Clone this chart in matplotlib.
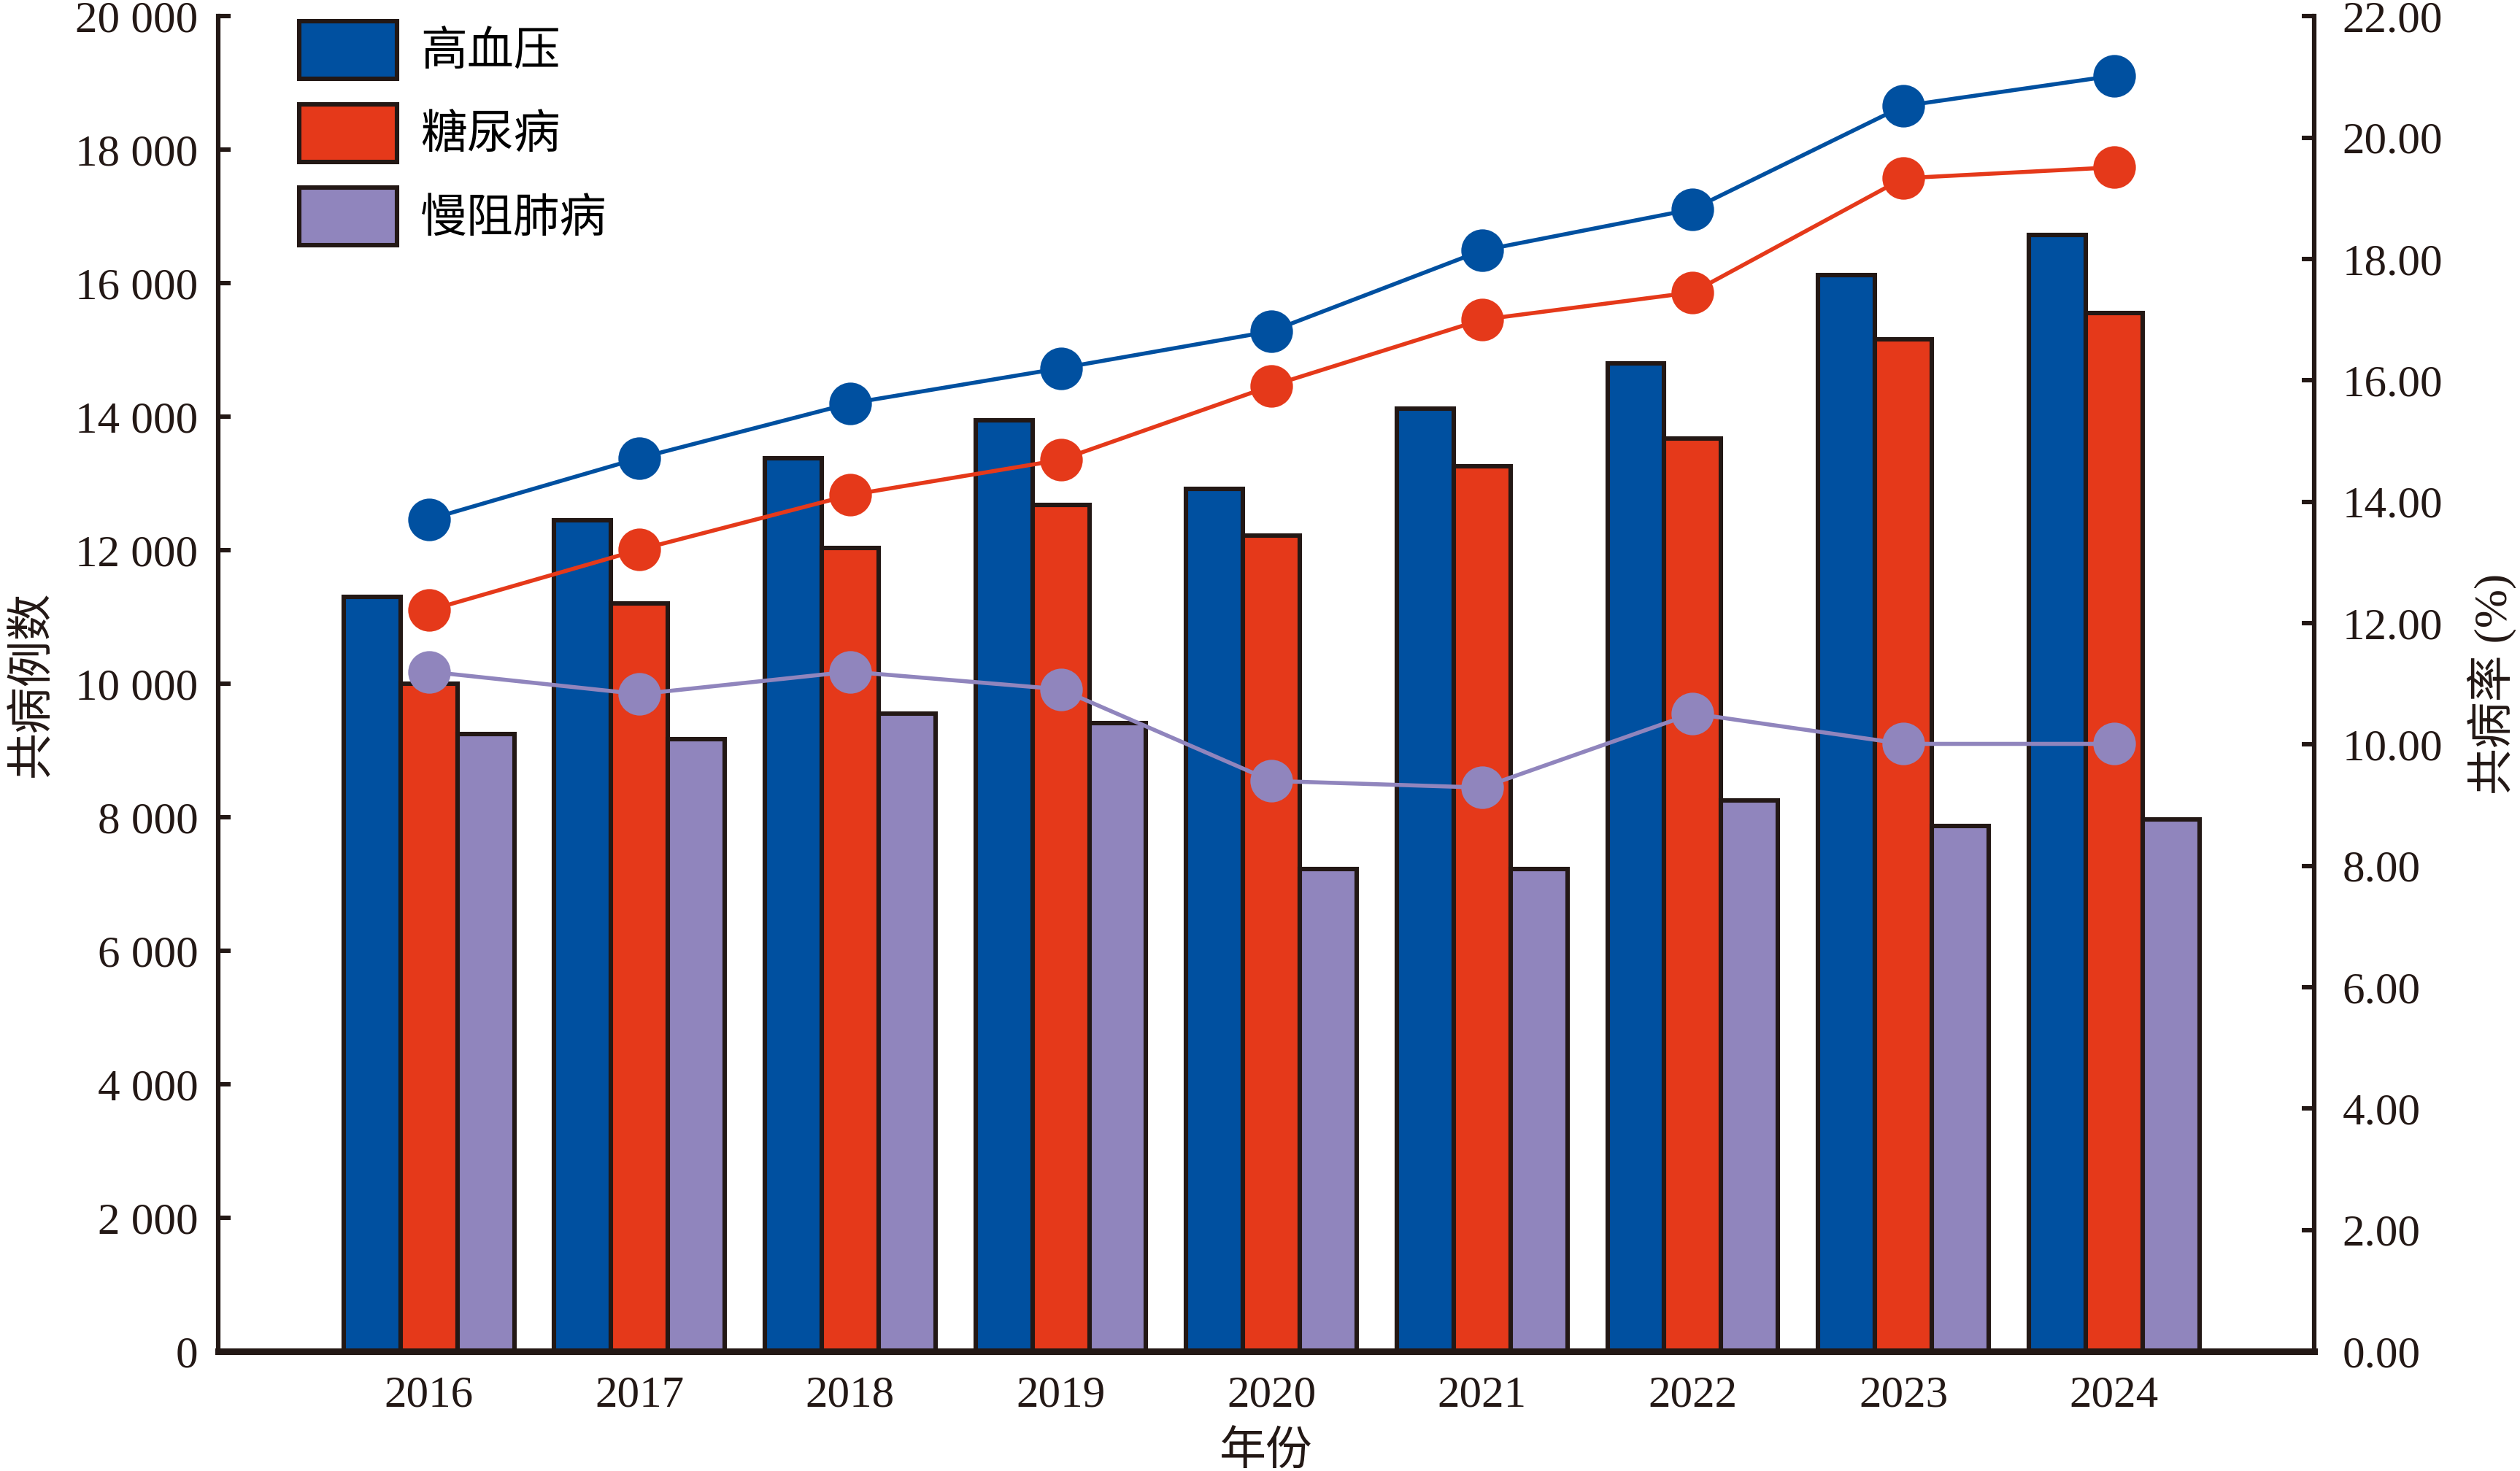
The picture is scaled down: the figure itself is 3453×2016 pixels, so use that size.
import numpy as np
import matplotlib.pyplot as plt
from matplotlib.ticker import FuncFormatter, MultipleLocator

# data
years = ["2016", "2017", "2018", "2019", "2020", "2021", "2022", "2023", "2024"]
series = ["高血压", "糖尿病", "慢阻肺病"]
cases_htn = [11300, 12450, 13380, 13950, 12920, 14120, 14800, 16120, 16720]
cases_dm = [10000, 11200, 12030, 12680, 12220, 13260, 13670, 15160, 15550]
cases_copd = [9250, 9170, 9550, 9410, 7220, 7220, 8255, 7870, 7966]
rate_htn = [13.71, 14.72, 15.62, 16.20, 16.81, 18.14, 18.82, 20.52, 21.02]
rate_dm = [12.21, 13.21, 14.11, 14.69, 15.91, 17.00, 17.45, 19.33, 19.51]
rate_copd = [11.20, 10.83, 11.20, 10.91, 9.40, 9.29, 10.51, 10.01, 10.01]

colors = ["#0050A0", "#E5391A", "#9085BD"]
edge = "#231815"
fonts = ["Liberation Serif", "Noto Sans CJK SC"]
plt.rcParams["font.family"] = fonts

fig = plt.figure(figsize=(17.265, 10.08), dpi=200)
ax = fig.add_axes([0.0866, 0.0813, 0.8317, 0.9077])
ax2 = ax.twinx()

x = np.arange(len(years))
w = 0.27
counts = [cases_htn, cases_dm, cases_copd]
rates = [rate_htn, rate_dm, rate_copd]
for i in range(3):
    ax.bar(x + (i - 1) * w, counts[i], width=w, color=colors[i],
           edgecolor=edge, linewidth=2.2, label=series[i], zorder=2)
    ax2.plot(x, rates[i], color=colors[i], lw=2.0, marker="o",
             markersize=21, markeredgewidth=0, zorder=3)

ax.set_xlim(-1, 8.95)
ax.set_ylim(0, 20000)
ax2.set_ylim(0, 22)
ax.yaxis.set_major_locator(MultipleLocator(2000))
ax2.yaxis.set_major_locator(MultipleLocator(2))
ax.yaxis.set_major_formatter(FuncFormatter(lambda v, p: f"{int(v):,}".replace(",", " ")))
ax2.yaxis.set_major_formatter(FuncFormatter(lambda v, p: f"{v:.2f}"))
ax.set_xticks(x)
ax.set_xticklabels(years)

for a in (ax, ax2):
    a.spines["top"].set_visible(False)
    for s in ("left", "right"):
        a.spines[s].set_linewidth(2.2)
        a.spines[s].set_color(edge)
    a.spines["bottom"].set_linewidth(3.2)
    a.spines["bottom"].set_color(edge)

ax.tick_params(axis="y", direction="in", length=6, width=2.2, labelsize=22, pad=10, colors=edge)
ax2.tick_params(axis="y", direction="in", length=6, width=2.2, labelsize=22, pad=14, colors=edge)
ax.tick_params(axis="x", direction="in", length=4, width=1.2, labelsize=22, pad=12, colors=edge)

ax.set_xlabel("年份", fontsize=23, labelpad=8, color=edge)
ax.set_ylabel("共病例数", fontsize=23, labelpad=10, color=edge)
ax2.set_ylabel("共病率 (%)", fontsize=23, labelpad=12, color=edge)

ax.legend(loc="upper left", bbox_to_anchor=(0.0386, 0.996), frameon=False,
          fontsize=23, handlelength=2.1, handleheight=1.52, labelspacing=0.55,
          handletextpad=0.5, borderpad=0, borderaxespad=0)

fig.savefig("out.png", dpi=200)
